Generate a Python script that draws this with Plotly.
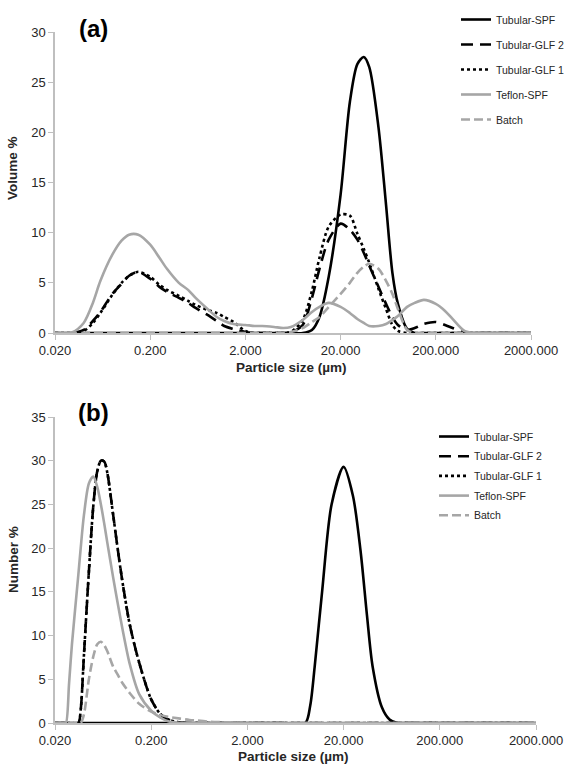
import plotly.graph_objects as go

# ---------------- data: panel (a) volume distribution ----------------
size_a = [0.02, 0.03, 0.04, 0.05, 0.06, 0.08, 0.1, 0.12, 0.15, 0.2,
          0.25, 0.3, 0.4, 0.5, 0.6, 0.8, 1, 1.2, 1.5, 2,
          2.5, 3, 4, 5, 6, 8, 10, 12, 15, 20,
          25, 30, 35, 40, 50, 60, 70, 80, 100, 120,
          150, 200, 250, 300, 400, 500, 600, 800, 1000, 2000]

vol_tubular_spf = [0, 0, 0, 0, 0, 0, 0, 0, 0, 0,
                   0, 0, 0, 0, 0, 0, 0, 0, 0, 0,
                   0, 0, 0, 0, 0, 0, 0.3, 1.6, 5.6, 13.8,
                   23.0, 26.8, 27.5, 26.5, 20.5, 12.8, 6.0, 2.9, 0.4, 0,
                   0, 0, 0, 0, 0, 0, 0, 0, 0, 0]
vol_tubular_glf2 = [0, 0, 0.3, 1.2, 2.1, 3.9, 4.9, 5.7, 6.1, 5.4,
                    4.6, 4.1, 3.5, 3.0, 2.5, 1.8, 1.2, 0.7, 0.4, 0.1,
                    0, 0, 0, 0, 0.05, 0.8, 3.5, 6.4, 9.3, 10.9,
                    10.3, 9.3, 8.0, 6.7, 4.6, 2.9, 1.6, 0.8, 0.3, 0.5,
                    0.9, 1.1, 0.8, 0.5, 0.05, 0, 0, 0, 0, 0]
vol_tubular_glf1 = [0, 0, 0.2, 1.0, 2.0, 3.8, 5.0, 5.7, 6.1, 5.6,
                    4.8, 4.3, 3.7, 3.2, 2.8, 2.3, 2.0, 1.6, 1.1, 0.2,
                    0, 0, 0, 0, 0.1, 1.3, 4.2, 7.5, 10.6, 11.8,
                    11.7, 9.9, 8.4, 7.0, 4.4, 2.4, 0.8, 0.2, 0, 0,
                    0, 0, 0, 0, 0, 0, 0, 0, 0, 0]
vol_teflon_spf = [0, 0.05, 1.0, 3.0, 5.2, 7.8, 9.2, 9.8, 9.8, 8.8,
                  7.5, 6.4, 5.0, 4.3, 3.5, 2.4, 1.6, 1.2, 0.9, 0.8,
                  0.7, 0.7, 0.6, 0.5, 0.6, 1.3, 2.1, 2.6, 3.0, 2.6,
                  2.0, 1.4, 1.0, 0.7, 0.7, 0.9, 1.3, 1.7, 2.6, 3.0,
                  3.3, 2.9, 2.2, 1.4, 0.2, 0, 0, 0, 0, 0]
vol_batch = [0, 0, 0, 0, 0, 0, 0, 0, 0, 0,
             0, 0, 0, 0, 0, 0, 0, 0, 0, 0,
             0, 0, 0, 0, 0.1, 0.5, 1.1, 1.6, 2.6, 3.9,
             5.0, 6.0, 6.6, 6.9, 6.4, 5.2, 3.9, 2.4, 0.3, 0,
             0, 0, 0, 0, 0, 0, 0, 0, 0, 0]

# ---------------- data: panel (b) number distribution ----------------
size_b = [0.02, 0.025, 0.026, 0.028, 0.03, 0.035, 0.037, 0.04, 0.045, 0.05,
          0.055, 0.06, 0.065, 0.07, 0.08, 0.09, 0.1, 0.12, 0.15, 0.2,
          0.25, 0.3, 0.4, 0.5, 0.6, 0.8, 1, 1.5, 2, 3,
          5, 8, 9, 10, 12, 15, 20, 25, 30, 35,
          40, 50, 60, 70, 80, 100, 200, 2000]

num_tubular_spf = [0, 0, 0, 0, 0, 0, 0, 0, 0, 0,
                   0, 0, 0, 0, 0, 0, 0, 0, 0, 0,
                   0, 0, 0, 0, 0, 0, 0, 0, 0, 0,
                   0, 0, 2.0, 6.4, 15.2, 25.0, 29.3, 26.0, 19.7, 12.3,
                   6.5, 1.8, 0.4, 0.05, 0, 0, 0, 0]
num_tubular_glf2 = [0, 0, 0, 0, 0, 0, 1.5, 7.8, 17.3, 24.8,
                    28.8, 30.0, 29.9, 28.6, 24.0, 19.8, 16.3, 11.2, 6.9, 2.7,
                    1.0, 0.4, 0.05, 0, 0, 0, 0, 0, 0, 0,
                    0, 0, 0, 0, 0, 0, 0, 0, 0, 0,
                    0, 0, 0, 0, 0, 0, 0, 0]
num_tubular_glf1 = [0, 0, 0, 0, 0, 0, 1.5, 7.8, 17.3, 24.8,
                    28.8, 30.0, 29.9, 28.6, 24.0, 19.8, 16.3, 11.2, 6.9, 2.7,
                    1.0, 0.4, 0.05, 0, 0, 0, 0, 0, 0, 0,
                    0, 0, 0, 0, 0, 0, 0, 0, 0, 0,
                    0, 0, 0, 0, 0, 0, 0, 0]
num_teflon_spf = [0, 0, 0, 4.5, 9.0, 17.0, 20.0, 23.8, 27.4, 28.2,
                  27.0, 25.0, 22.8, 20.6, 16.8, 13.6, 10.9, 6.7, 3.3, 1.4,
                  0.6, 0.2, 0, 0, 0, 0, 0, 0, 0, 0,
                  0, 0, 0, 0, 0, 0, 0, 0, 0, 0,
                  0, 0, 0, 0, 0, 0, 0, 0]
num_batch = [0, 0, 0, 0, 0, 0, 0, 1.0, 5.0, 7.6,
             9.0, 9.3, 8.9, 8.2, 6.5, 5.5, 4.6, 3.4, 2.2, 1.3,
             0.9, 0.7, 0.5, 0.35, 0.28, 0.15, 0.1, 0.05, 0, 0,
             0, 0, 0, 0, 0, 0, 0, 0, 0, 0,
             0, 0, 0, 0, 0, 0, 0, 0]

series_names = ["Tubular-SPF", "Tubular-GLF 2", "Tubular-GLF 1", "Teflon-SPF", "Batch"]
tick_vals = [0.02, 0.2, 2, 20, 200, 2000]
tick_text = ["0.020", "0.200", "2.000", "20.000", "200.000", "2000.000"]

# ---------------- styling ----------------
W, H = 571, 765
BLACK = "#000000"
GRAY = "#a6a6a6"
AXIS = "#bfbfbf"
FONT = "Liberation Sans, Arial, sans-serif"
styles = [
    dict(color=BLACK, width=2.6, dash="solid"),
    dict(color=BLACK, width=2.6, dash="12px,7px"),
    dict(color=BLACK, width=2.6, dash="3px,3px"),
    dict(color=GRAY, width=2.6, dash="solid"),
    dict(color=GRAY, width=2.6, dash="9px,4px"),
]

fig = go.Figure()
vol_sets = [vol_tubular_spf, vol_tubular_glf2, vol_tubular_glf1, vol_teflon_spf, vol_batch]
num_sets = [num_tubular_spf, num_tubular_glf2, num_tubular_glf1, num_teflon_spf, num_batch]

for i, (name, ys) in enumerate(zip(series_names, vol_sets)):
    fig.add_trace(go.Scatter(x=size_a, y=ys, name=name, mode="lines",
                             line=dict(shape="spline", smoothing=0.8, **styles[i]),
                             xaxis="x", yaxis="y", legend="legend",
                             legendgroup="a%d" % i))
for i, (name, ys) in enumerate(zip(series_names, num_sets)):
    fig.add_trace(go.Scatter(x=size_b, y=ys, name=name, mode="lines",
                             line=dict(shape="spline", smoothing=0.8, **styles[i]),
                             xaxis="x2", yaxis="y2", legend="legend2",
                             legendgroup="b%d" % i))

def px_x(p):
    return p / W

def px_y(p):
    return 1 - p / H

common_x = dict(type="log", range=[-1.69897, 3.30103], tickvals=tick_vals, ticktext=tick_text,
                showline=True, linecolor=AXIS, linewidth=1.5, ticks="outside", ticklen=5,
                tickcolor=AXIS, tickwidth=1.2, showgrid=False, zeroline=False,
                tickfont=dict(size=13, color="#262626", family=FONT))
common_y = dict(showline=True, linecolor=AXIS, linewidth=1.5, ticks="outside", ticklen=5,
                tickcolor=AXIS, tickwidth=1.2, showgrid=False, zeroline=False, dtick=5,
                tickfont=dict(size=13, color="#262626", family=FONT))

fig.update_layout(
    width=W, height=H,
    margin=dict(l=0, r=0, t=0, b=0, autoexpand=False),
    paper_bgcolor="white", plot_bgcolor="white",
    font=dict(family=FONT, color="#262626"),
    xaxis=dict(domain=[px_x(55), px_x(531)], anchor="y", **common_x),
    yaxis=dict(domain=[px_y(333), px_y(32)], anchor="x", range=[0, 30], **common_y),
    xaxis2=dict(domain=[px_x(55), px_x(536)], anchor="y2", **common_x),
    yaxis2=dict(domain=[px_y(723), px_y(417)], anchor="x2", range=[0, 35], **common_y),
    legend=dict(x=px_x(456), y=px_y(5), xanchor="left", yanchor="top",
                font=dict(size=10.5, color="#262626", family=FONT),
                tracegroupgap=6, bgcolor="rgba(0,0,0,0)", itemwidth=30),
    legend2=dict(x=px_x(434), y=px_y(422), xanchor="left", yanchor="top",
                 font=dict(size=10.5, color="#262626", family=FONT),
                 tracegroupgap=0.7, bgcolor="rgba(0,0,0,0)", itemwidth=30),
    showlegend=True,
)

annots = [
    dict(text="<b>(a)</b>", x=px_x(94), y=px_y(29), font=dict(size=24, color="#000")),
    dict(text="<b>(b)</b>", x=px_x(94), y=px_y(412), font=dict(size=24, color="#000")),
    dict(text="<b>Volume %</b>", x=px_x(12), y=px_y(168), textangle=-90, font=dict(size=13.5)),
    dict(text="<b>Number %</b>", x=px_x(13), y=px_y(560), textangle=-90, font=dict(size=13.5)),
    dict(text="<b>Particle size (µm)</b>", x=px_x(291), y=px_y(367), font=dict(size=13.5)),
    dict(text="<b>Particle size (µm)</b>", x=px_x(293), y=px_y(756), font=dict(size=13.5)),
]
for a in annots:
    a.update(xref="paper", yref="paper", showarrow=False, xanchor="center", yanchor="middle")
    a["font"].setdefault("family", FONT)
    a["font"].setdefault("color", "#262626")
    fig.add_annotation(**a)

fig.write_html("out.html")
